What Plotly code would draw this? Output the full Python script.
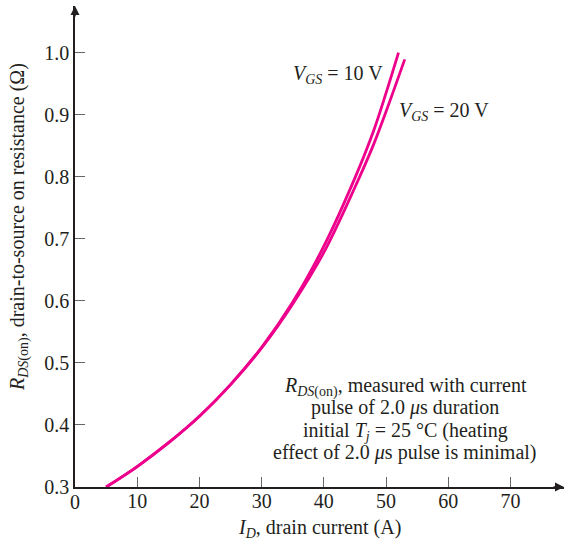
import plotly.graph_objects as go

# Data
id_vgs10 = [5, 10, 15, 20, 25, 30, 35, 40, 45, 48, 50, 52]
r_vgs10 = [0.300, 0.333, 0.371, 0.414, 0.465, 0.525, 0.598, 0.688, 0.798, 0.874, 0.935, 1.000]
id_vgs20 = [5, 10, 15, 20, 25, 30, 35, 40, 45, 48, 50, 53]
r_vgs20 = [0.300, 0.333, 0.371, 0.414, 0.465, 0.524, 0.595, 0.678, 0.783, 0.852, 0.905, 0.989]

x_ticks = [10, 20, 30, 40, 50, 60, 70]
y_ticks = [0.3, 0.4, 0.5, 0.6, 0.7, 0.8, 0.9, 1.0]
y_tick_text = ["0.3", "0.4", "0.5", "0.6", "0.7", "0.8", "0.9", "1.0"]

note_lines = [
    "<i>R</i><sub><i>DS</i>(on)</sub>, measured with current",
    "pulse of 2.0 <i>μ</i>s duration",
    "initial <i>T<sub>j</sub></i> = 25 °C (heating",
    "effect of 2.0 <i>μ</i>s pulse is minimal)",
]

X_MAX = 78.6
Y_MIN, Y_MAX = 0.3, 1.075
COLOR = "#EC008C"
FONT = "Liberation Serif"
FS = 20

fig = go.Figure()
fig.add_trace(go.Scatter(x=id_vgs10, y=r_vgs10, mode="lines",
                         line=dict(color=COLOR, width=2.8, shape="spline", smoothing=1),
                         showlegend=False, hoverinfo="skip"))
fig.add_trace(go.Scatter(x=id_vgs20, y=r_vgs20, mode="lines",
                         line=dict(color=COLOR, width=2.8, shape="spline", smoothing=1),
                         showlegend=False, hoverinfo="skip"))

fig.update_layout(
    width=568, height=545,
    margin=dict(l=75, r=4, t=6, b=58, autoexpand=False),
    paper_bgcolor="white", plot_bgcolor="white",
    font=dict(family=FONT, size=FS, color="#231F20"),
    xaxis=dict(range=[0, X_MAX], tickvals=x_ticks, ticks="inside", ticklen=10,
               tickcolor="#666", tickwidth=1.2, showgrid=False, zeroline=False,
               showline=True, linecolor="#231F20", linewidth=1.5, automargin=False,
               ticklabelstandoff=-5,
               tickfont=dict(family=FONT, size=FS)),
    yaxis=dict(range=[Y_MIN, Y_MAX], tickvals=y_ticks, ticktext=y_tick_text,
               ticks="inside", ticklen=10, tickcolor="#666", tickwidth=1.2,
               showgrid=False, zeroline=False, showline=True, automargin=False,
               linecolor="#231F20", linewidth=1.5,
               tickfont=dict(family=FONT, size=FS)),
)

# "0" label at origin
fig.add_annotation(x=0, y=Y_MIN, text="0", showarrow=False, xref="x", yref="y",
                   yanchor="top", yshift=-2, font=dict(family=FONT, size=FS))

# Axis arrowheads
fig.add_annotation(x=X_MAX, y=Y_MIN, ax=-12, ay=0, xref="x", yref="y",
                   showarrow=True, arrowhead=2, arrowsize=1.2, arrowwidth=1.5,
                   arrowcolor="#231F20", text="")
fig.add_annotation(x=0, y=Y_MAX, ax=0, ay=12, xref="x", yref="y",
                   showarrow=True, arrowhead=2, arrowsize=1.2, arrowwidth=1.5,
                   arrowcolor="#231F20", text="")

# Axis titles
fig.add_annotation(x=0.5, y=-0.087, xref="paper", yref="paper",
                   text="<i>I<sub>D</sub></i>, drain current (A)",
                   showarrow=False, yanchor="middle",
                   font=dict(family=FONT, size=FS))
fig.add_annotation(x=-0.115, y=0.54, xref="paper", yref="paper",
                   text="<i>R</i><sub><i>DS</i>(on)</sub>, drain-to-source on resistance (Ω)",
                   showarrow=False, textangle=-90, xanchor="center", yanchor="middle",
                   font=dict(family=FONT, size=FS))

# Curve labels
fig.add_annotation(x=49.9, y=0.965, xref="x", yref="y", xanchor="right", yanchor="middle",
                   text="<i>V<sub>GS</sub></i> = 10 V", showarrow=False,
                   font=dict(family=FONT, size=FS))
fig.add_annotation(x=51.7, y=0.905, xref="x", yref="y", xanchor="left", yanchor="middle",
                   text="<i>V<sub>GS</sub></i> = 20 V", showarrow=False,
                   font=dict(family=FONT, size=FS))

# Note block, one line per annotation (tighter line spacing)
note_y = [0.461, 0.428, 0.390, 0.355]
for txt, yy in zip(note_lines, note_y):
    fig.add_annotation(x=53.1, y=yy, xref="x", yref="y", xanchor="center",
                       yanchor="middle", text=txt, showarrow=False,
                       font=dict(family=FONT, size=FS))

fig.write_html("out.html", config={"displayModeBar": False},
               post_script="document.body.style.margin='0';")
